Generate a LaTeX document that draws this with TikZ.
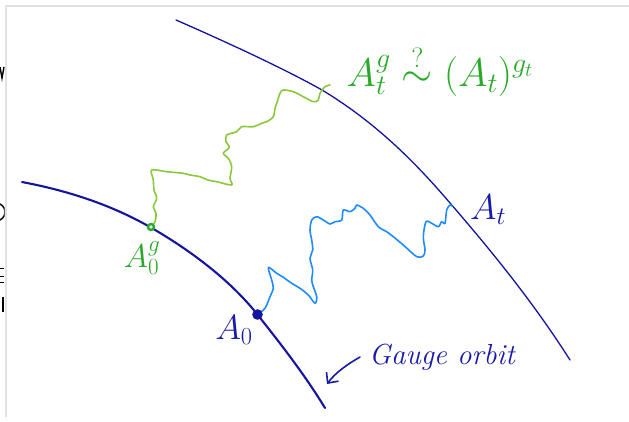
\RequirePackage{fix-cm}
\documentclass[tikz,border=0pt]{standalone}
\usepackage{amsmath}
\usetikzlibrary{arrows.meta}
\definecolor{orbitblue}{RGB}{20,20,160}
\definecolor{walkgreen}{RGB}{140,200,60}
\definecolor{txtgreen}{RGB}{40,170,40}
\definecolor{walkblue}{RGB}{30,140,255}
\definecolor{txtblue}{RGB}{25,25,170}
\definecolor{framegray}{RGB}{225,225,225}
\begin{document}
\begin{tikzpicture}[x=1pt,y=-1pt,
  orbit/.style={draw=orbitblue, line cap=round},
  walk/.style={line width=1.6pt, line join=round, line cap=round},
  lbl/.style={inner sep=0pt, font=\fontsize{36}{40}\selectfont},
  frag/.style={draw=black, line width=1.4pt}]
\useasboundingbox (0,0) rectangle (629,422);
\fill[white] (0,0) rectangle (629,422);
% frame of the page behind
\draw[framegray, line width=1.3pt] (6,417) -- (6,6) -- (629,6);
\begin{scope}
  \clip (0,0) rectangle (4.5,422);
  \draw[frag] (0,67) -- (2,78) -- (4,67);
  \draw[frag] (-4,221) arc[start angle=90, end angle=-90, radius=9];
  \draw[frag, line width=1pt] (0,268) -- (4,268) (0,276) -- (4,276) (0,282) -- (4,282);
  \draw[frag] (3,297) -- (3,312);
\end{scope}
% gauge orbits
\draw[orbit, line width=1.3pt] (176,20) .. controls (240,48) and (290,72) .. (322,90)
  .. controls (380,125) and (420,168) .. (450,203)
  .. controls (495,255) and (535,305) .. (570,360);
\draw[orbit, line width=2.1pt] (22,182) .. controls (80,193) and (120,210) .. (150,227)
  .. controls (190,250) and (230,280) .. (257,314)
  .. controls (280,343) and (305,375) .. (325,408);
% points
\node[circle, fill=orbitblue, minimum size=10pt, inner sep=0pt] (a0) at (257.5,314.5) {};
\coordinate (ag) at (151,227);
\coordinate (atend) at (452,206);
\coordinate (agtend) at (330,85);
% green random walk
\draw[walk, walkgreen] plot[smooth, tension=0.5] coordinates
  {(ag) (155,221.7) (156,213.3) (153.3,206.7) (156.7,198.3) (154,190) (153.3,180) (151.7,170)
   (166.7,171.7) (183.3,173.3) (190,175) (200,176.7) (208,180) (216.7,181.7) (231.7,185)
   (230,178.3) (231.7,166.7) (228.3,158.3) (223.3,153.3) (229.3,147.3) (226,141.7) (226.7,135)
   (236.7,131.7) (241.7,126.7) (253.3,126.7) (261.7,123.3) (266.7,121.7) (273.3,116.7)
   (275,108.3) (276.7,103.3) (280,93.3) (283.3,90) (293.3,91.7) (303.3,96.7) (313.3,101.7)
   (318.3,100) (320,93.3) (325,86.7) (agtend)};
\node[circle, draw=txtgreen, line width=2.4pt, fill=white, minimum size=6pt, inner sep=0pt] (agdot) at (ag) {};
% blue random walk
\draw[walk, walkblue] plot[smooth, tension=0.5] coordinates
  {(a0.center) (265,308.3) (270,296.7) (273.3,288.3) (271.7,280) (268.3,267.3) (276.7,273.3)
   (283.3,277.3) (291.7,283.3) (300,288.3) (308.3,295) (315,303.3) (316.7,296.7) (313.3,286.7)
   (311.7,280) (312.7,270) (310,258.3) (312.7,250) (311.7,240) (310,230) (311.7,220)
   (316.7,216.7) (323.3,220) (330,224) (335,221.7) (341.7,220) (343.3,210) (350,211.7)
   (355,208.3) (356.7,205) (363.3,208.3) (370,215) (378.3,226.7) (386.7,231.7) (393.3,236.7)
   (403.3,245) (416.7,256.7) (423.3,256) (425,250) (423.3,236.7) (426,221.7) (431.7,223.3)
   (438.3,226.7) (441.7,221.7) (445,223.3) (446.7,210) (450,205) (atend)};
\node[circle, fill=orbitblue, minimum size=10.5pt, inner sep=0pt] at (a0) {};
% labels
\node[lbl, text=txtgreen, font=\fontsize{40}{44}\selectfont] (rel) at (440,71) {$A_t^g \stackrel{?}{\sim} (A_t)^{g_t}$};
\node[lbl, text=txtblue] (at) at (488,210) {$A_t$};
\node[lbl, text=txtgreen, font=\fontsize{33}{38}\selectfont] (a0g) at (142,258) {$A_0^g$};
\node[lbl, text=txtblue, font=\fontsize{35}{40}\selectfont] (a0l) at (234,330) {$A_0$};
\node[lbl, text=txtblue, font=\fontsize{29}{33}\selectfont\itshape] (go) at (442,357) {Gauge orbit};
\coordinate (arrtip) at (327,384);
\draw[txtblue, line width=1.6pt, line cap=round, -{Straight Barb[length=8pt,width=15pt]}]
  ([xshift=-9pt]go.west) .. controls (348,364) and (336,372) .. (arrtip);
\end{tikzpicture}
\end{document}
